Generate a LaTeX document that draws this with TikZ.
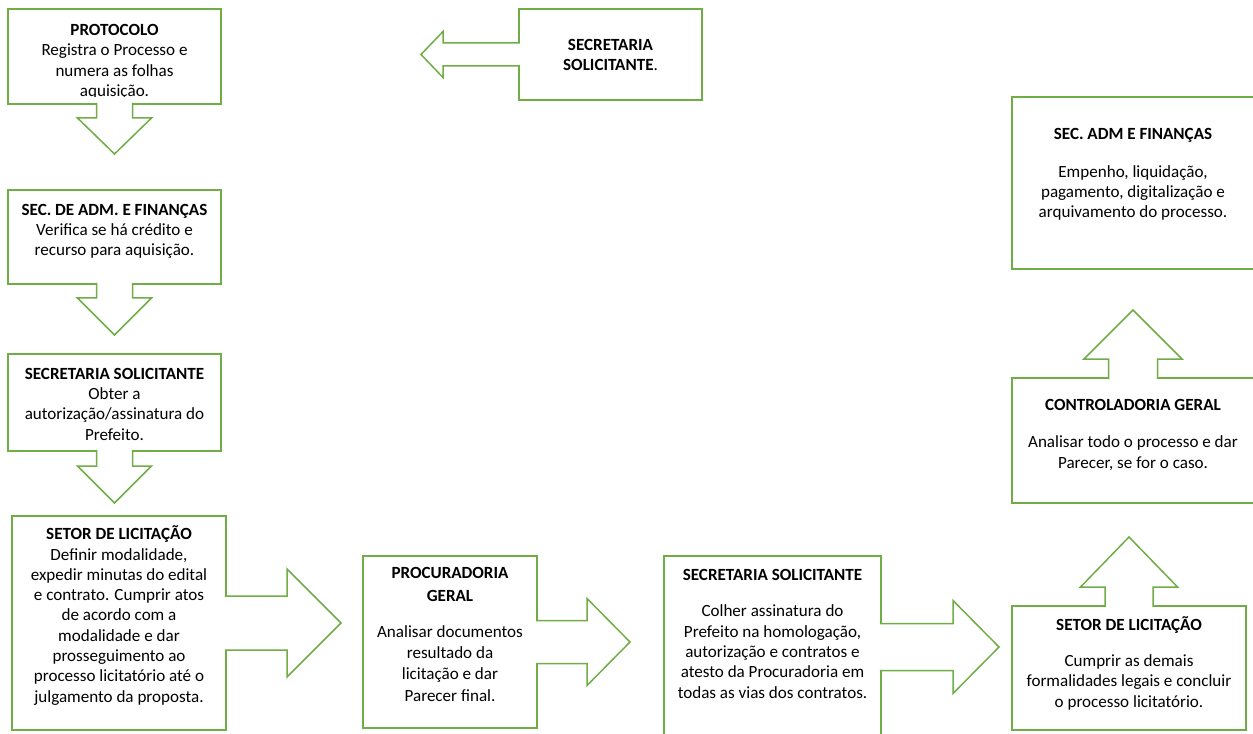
\documentclass[tikz,border=0pt]{standalone}
\usepackage{fontspec}
\setmainfont{Carlito}
\usetikzlibrary{fit}
\definecolor{boxgreen}{HTML}{70AD47}

% block arrow on one side of a box: anchor, angle, stem half width, stem length, head half width, tip length
\newcommand{\calloutarrow}[6]{%
  \begin{scope}[shift={(#1)}, rotate=#2]
    \draw[arrowpart] (-1.2,#3) -- (#4,#3) -- (#4,#5) -- (#6,0) -- (#4,-#5) -- (#4,-#3) -- (-1.2,-#3);
  \end{scope}}

\begin{document}
\begin{tikzpicture}[x=0.75pt, y=0.75pt]
  \tikzstyle{box}=[draw=boxgreen, line width=1.125pt, inner sep=0pt, outer sep=0pt]
  \tikzstyle{arrowpart}=[draw=boxgreen, fill=white, line width=1.125pt]
  % texts are placed by the baseline of their last line
  \tikzstyle{txt}=[align=center, inner sep=0pt, anchor=base, font=\fontsize{12.8}{15.2}\selectfont]
  \useasboundingbox (0,0) rectangle (1253,-734);
  \clip (0,0) rectangle (1253,-734);

  \node[box, fit={(8,-9) (221,-104)}]       (prot)    {};
  \node[box, fit={(519,-9) (702,-100)}]     (secsol)  {};
  \node[box, fit={(8,-190) (221,-284)}]     (admfin)  {};
  \node[box, fit={(8,-354) (221,-451)}]     (solic)   {};
  \node[box, fit={(12,-516) (226,-730)}]    (licit)   {};
  \node[box, fit={(363,-556) (537,-728)}]   (procur)  {};
  \node[box, fit={(664,-556) (881,-738)}]   (colher)  {};
  \node[box, fit={(1012,-606) (1246,-730)}] (concl)   {};
  \node[box, fit={(1012,-378) (1254,-503)}] (control) {};
  \node[box, fit={(1012,-97) (1254,-269)}]  (empenho) {};

  \calloutarrow{prot.south}{-90}{18}{14}{37}{50}
  \calloutarrow{secsol.west}{180}{11.5}{76}{23}{98}
  \calloutarrow{admfin.south}{-90}{18}{14}{37}{51}
  \calloutarrow{solic.south}{-90}{18}{15}{37}{52}
  \calloutarrow{licit.east}{0}{27}{61}{54}{115}
  \calloutarrow{procur.east}{0}{21.5}{50}{43.5}{93}
  \calloutarrow{colher.east}{0}{23.5}{72}{46.5}{118}
  \calloutarrow{concl.north}{90}{24}{19}{48.5}{69}
  \calloutarrow{control.north}{90}{24.5}{19}{49}{68}

  \begin{scope}
    \clip (8,-9) rectangle (221,-97);
    \node[txt] (protT) at (114.5,-96.5) {\textbf{PROTOCOLO}\\Registra o Processo e\\numera as folhas\\aquisição.};
  \end{scope}
  \node[txt] (secsolT) at (610.5,-71) {\textbf{SECRETARIA}\\\textbf{SOLICITANTE}.};
  \node[txt] (admfinT) at (114.5,-256) {\textbf{SEC. DE ADM. E FINANÇAS}\\Verifica se há crédito e\\recurso para aquisição.};
  \node[txt] (solicT) at (114.5,-440) {\textbf{SECRETARIA SOLICITANTE}\\Obter a\\autorização/assinatura do\\Prefeito.};
  \node[txt] (licitT) at (119,-702) {\textbf{SETOR DE LICITAÇÃO}\\Definir modalidade,\\expedir minutas do edital\\e contrato. Cumprir atos\\de acordo com a\\modalidade e dar\\prosseguimento ao\\processo licitatório até o\\julgamento da proposta.};
  \node[txt] (procurT) at (450,-701) {\textbf{PROCURADORIA}\\[2pt]\textbf{GERAL}\\[11.8pt]Analisar documentos\\[0.6pt]resultado da\\[0.6pt]licitação e dar\\[0.6pt]Parecer final.};
  \node[txt] (colherT) at (772.5,-698) {\textbf{SECRETARIA SOLICITANTE}\\[12.5pt]Colher assinatura do\\Prefeito na homologação,\\autorização e contratos e\\atesto da Procuradoria em\\todas as vias dos contratos.};
  \node[txt] (conclT) at (1129,-707) {\textbf{SETOR DE LICITAÇÃO}\\[11.8pt]Cumprir as demais\\formalidades legais e concluir\\o processo licitatório.};
  \node[txt] (controlT) at (1133,-468) {\textbf{CONTROLADORIA GERAL}\\[12.5pt]Analisar todo o processo e dar\\Parecer, se for o caso.};
  \node[txt] (empenhoT) at (1133,-218) {\textbf{SEC. ADM E FINANÇAS}\\[13pt]Empenho, liquidação,\\pagamento, digitalização e\\arquivamento do processo.};
\end{tikzpicture}
\end{document}
